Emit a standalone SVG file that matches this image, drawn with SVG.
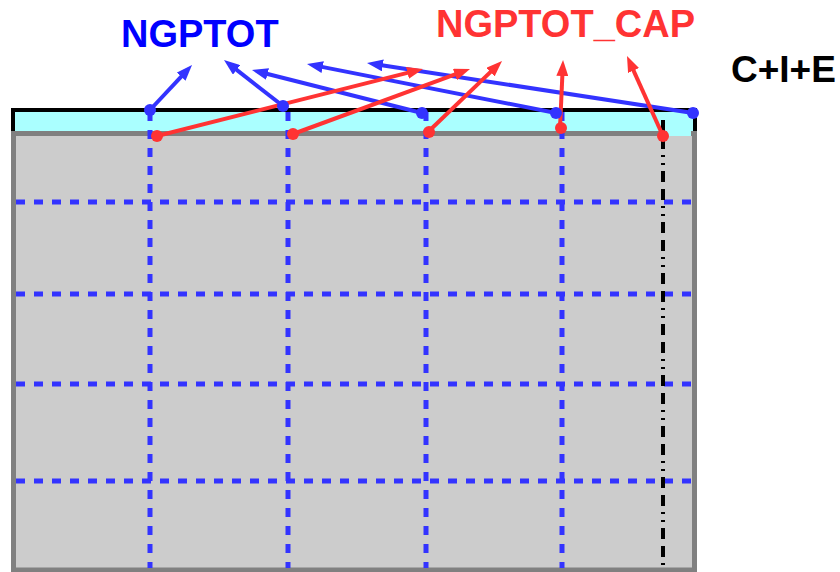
<svg xmlns="http://www.w3.org/2000/svg" width="840" height="572" viewBox="0 0 840 572">
  <style>
    .lbl { font-family: "Liberation Sans", Arial, sans-serif; font-weight: bold; }
    .grid { stroke: #3333ff; stroke-width: 5; stroke-dasharray: 9 9; fill: none; }
    .blue { stroke: #3333ff; stroke-width: 4; fill: none; marker-end: url(#ahBlue); }
    .red { stroke: #ff3333; stroke-width: 4; fill: none; marker-end: url(#ahRed); }
    .dotB { fill: #3333ff; }
    .dotR { fill: #ff3333; }
  </style>
  <defs>
    <marker id="ahBlue" markerUnits="userSpaceOnUse" markerWidth="16" markerHeight="12" refX="6" refY="6" orient="auto">
      <path d="M0,0 L16,6 L0,12 z" fill="#3333ff"/>
    </marker>
    <marker id="ahRed" markerUnits="userSpaceOnUse" markerWidth="16" markerHeight="12" refX="6" refY="6" orient="auto">
      <path d="M0,0 L16,6 L0,12 z" fill="#ff3333"/>
    </marker>
  </defs>

  <!-- top halo band and grid body -->
  <g id="domain">
    <rect x="13" y="110" width="682" height="24" fill="#aaffff" stroke="#000" stroke-width="4"/>
    <rect x="13.5" y="133.5" width="681" height="436.5" fill="#cccccc" stroke="#808080" stroke-width="5"/>
    <rect x="667" y="131" width="24" height="5" fill="#aaffff"/>
  </g>

  <!-- dashed grid cells -->
  <g id="gridlines">
    <line class="grid" x1="16" y1="202" x2="692" y2="202"/>
    <line class="grid" x1="16" y1="294" x2="692" y2="294"/>
    <line class="grid" x1="16" y1="384" x2="692" y2="384"/>
    <line class="grid" x1="16" y1="481" x2="692" y2="481"/>
    <line class="grid" x1="150" y1="112" x2="150" y2="568"/>
    <line class="grid" x1="288" y1="112" x2="288" y2="568"/>
    <line class="grid" x1="426" y1="112" x2="426" y2="568"/>
    <line class="grid" x1="562" y1="112" x2="562" y2="568"/>
    <line x1="663" y1="120" x2="663" y2="568" stroke="#000" stroke-width="4" stroke-dasharray="11 7 11 6 2 6 2 6"/>
  </g>

  <!-- connectors -->
  <g id="connectors">
    <line class="blue" x1="150" y1="110" x2="185.2" y2="72.3"/>
    <line class="blue" x1="283" y1="106" x2="231.9" y2="66.2"/>
    <line class="blue" x1="422" y1="113" x2="261.7" y2="72.5"/>
    <line class="blue" x1="556" y1="113" x2="316.8" y2="65.9"/>
    <line class="blue" x1="693" y1="113" x2="376.9" y2="64.5"/>
    <line class="red" x1="157" y1="136" x2="413.3" y2="71.4"/>
    <line class="red" x1="293" y1="134" x2="460.6" y2="72.4"/>
    <line class="red" x1="428" y1="132" x2="494.8" y2="67.9"/>
    <line class="red" x1="560" y1="128" x2="562.6" y2="70"/>
    <line class="red" x1="663" y1="136" x2="631.1" y2="65.1"/>
  </g>

  <!-- point markers -->
  <g id="points">
    <circle class="dotB" cx="150" cy="110" r="6"/>
    <circle class="dotB" cx="283" cy="106" r="6"/>
    <circle class="dotB" cx="422" cy="113" r="6"/>
    <circle class="dotB" cx="556" cy="113" r="6"/>
    <circle class="dotB" cx="693" cy="113" r="6"/>
    <circle class="dotR" cx="157" cy="136" r="6"/>
    <circle class="dotR" cx="293" cy="134" r="6"/>
    <circle class="dotR" cx="429" cy="132" r="6"/>
    <circle class="dotR" cx="561" cy="128" r="6"/>
    <circle class="dotR" cx="663" cy="136" r="6"/>
  </g>

  <g id="label-ngptot">
    <text class="lbl" x="121" y="47" font-size="38" fill="#0000ff">NGPTOT</text>
  </g>
  <g id="label-ngptot-cap">
    <text class="lbl" x="436" y="37" font-size="38" fill="#ff3333">NGPTOT_CAP</text>
  </g>
  <g id="label-cie">
    <text class="lbl" x="731" y="82" font-size="37" fill="#000">C+I+E</text>
  </g>
</svg>
